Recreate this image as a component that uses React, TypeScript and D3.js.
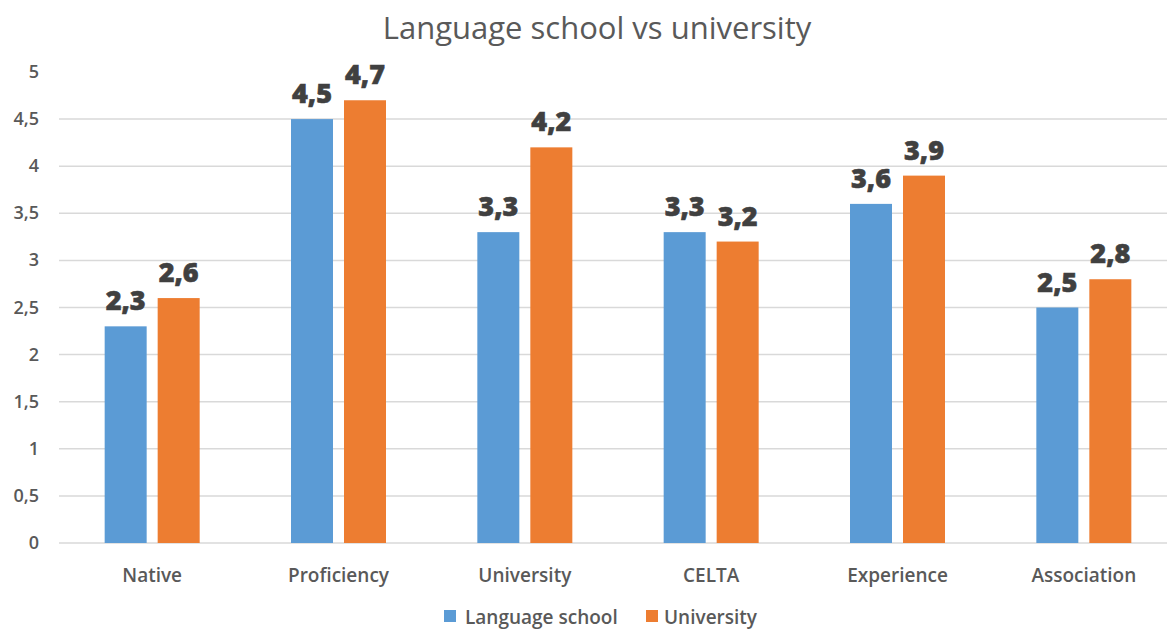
import React from "react";
import * as d3 from "d3";

const categories = ["Native", "Proficiency", "University", "CELTA", "Experience", "Association"];
const languageSchool = [2.3, 4.5, 3.3, 3.3, 3.6, 2.5];
const university = [2.6, 4.7, 4.2, 3.2, 3.9, 2.8];
const seriesNames = ["Language school", "University"];
const yTicks = [0, 0.5, 1, 1.5, 2, 2.5, 3, 3.5, 4, 4.5, 5];
const colors = ["#5B9BD5", "#ED7D31"];

const W = 1167, H = 630;
const fmt = (v: number) => String(v).replace(".", ",");

export default function App() {
  const x = d3.scaleBand<string>().domain(categories).range([59, 1177]).paddingInner(0).paddingOuter(0);
  const y = d3.scaleLinear().domain([0, 5]).range([543, 72]);
  const barW = 42;
  const gap = 11;
  const series = [languageSchool, university];
  const font = "'Open Sans', 'DejaVu Sans', sans-serif";
  return (
    <svg width={W} height={H} style={{ position: "absolute", left: 0, top: 0, background: "#fff" }} fontFamily={font}>
      <text x={597} y={39} textAnchor="middle" fontSize={31} fill="#595959">Language school vs university</text>
      {yTicks.map((t) => (
        <g key={t}>
          {t < 5 && <line x1={59} x2={1167} y1={y(t)} y2={y(t)} stroke="#D9D9D9" strokeWidth={1.5} />}
          <text x={39} y={y(t) + 6} textAnchor="end" fontSize={18} fontWeight={600} fill="#595959">{fmt(t)}</text>
        </g>
      ))}
      {categories.map((c, i) => {
        const cx = x(c)! + x.bandwidth() / 2;
        return (
          <g key={c}>
            {series.map((s, k) => {
              const bx = k === 0 ? cx - gap / 2 - barW : cx + gap / 2;
              return (
                <g key={k}>
                  <rect x={bx} y={y(s[i])} width={barW} height={y(0) - y(s[i])} fill={colors[k]} />
                  <text x={bx + barW / 2} y={y(s[i]) - 16} textAnchor="middle" fontSize={27} fontWeight={800} fill="#404040" stroke="#404040" strokeWidth={0.6}>{fmt(s[i])}</text>
                </g>
              );
            })}
            <text x={cx} y={582} textAnchor="middle" fontSize={19} fontWeight={600} fill="#595959">{c}</text>
          </g>
        );
      })}
      <g>
        <rect x={444} y={610} width={12} height={12} fill={colors[0]} />
        <text x={465} y={624} fontSize={19} fontWeight={600} fill="#595959">{seriesNames[0]}</text>
        <rect x={646} y={610} width={12} height={12} fill={colors[1]} />
        <text x={664} y={624} fontSize={19} fontWeight={600} fill="#595959">{seriesNames[1]}</text>
      </g>
    </svg>
  );
}
